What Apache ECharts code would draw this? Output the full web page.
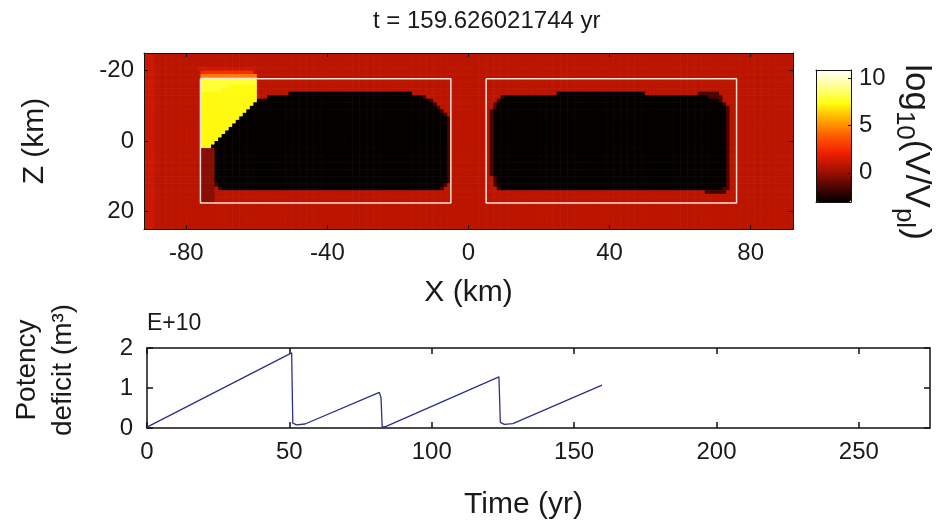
<!DOCTYPE html>
<html>
<head>
<meta charset="utf-8">
<script src="https://cdn.jsdelivr.net/npm/echarts@6/dist/echarts.min.js"></script>
<style>html,body{margin:0;padding:0;background:#fff;}#c{width:936px;height:527px;}</style>
</head>
<body>
<div id="c"></div>
<script>
// ---------- data ----------
const titleText = 't = 159.626021744 yr';
// slip-rate field log10(V/Vpl), read from the picture as run-length rows (1 km cells)
// x from -92 to 92 km, z from -25 (top row) to 25 km; token = level letter + x where the run ends
const levelValues = { r: 0.8, s: 1.2, d: -0.3, b: -1.6, k: -3.0, y: 7.3, w: 7.9, o: 4.6, q: 2.6 };
const fieldRows = [
  "s-89 r92","s-89 r92","s-89 r92","s-89 r92",
  "s-89 r-77 s-60 r92",
  "s-89 r-76 q-61 r92",
  "s-89 r-76 o-60 r92",
  "s-89 r-76 w-60 r92",
  "s-89 r-76 w-60 r92",
  "s-89 r-76 w-68 y-60 r92",
  "s-89 r-76 w-70 y-60 r92",
  "s-89 r-76 y-60 r-51 k-16 r25 k50 r65 b71 r92",
  "s-89 r-76 y-60 r-57 k-13 b-12 r9 b10 k68 b72 r92",
  "s-89 r-76 y-60 k-11 b-10 r8 b9 k71 b72 r92",
  "s-89 r-76 y-61 k-10 b-9 r7 b8 k72 b73 r92",
  "s-89 r-76 y-62 k-9 b-8 r7 b8 k73 b74 r92",
  "s-89 r-76 y-63 k-8 b-7 r6 b7 k73 b74 r92",
  "s-89 r-76 y-64 k-7 b-6 r6 b7 k73 b74 r92",
  "s-89 r-76 y-65 k-6 b-5 r6 b7 k73 b74 r92",
  "s-89 r-76 y-66 k-6 b-5 r6 b7 k73 b74 r92",
  "s-89 r-76 y-67 k-6 b-5 r6 b7 k73 b74 r92",
  "s-89 r-76 y-68 k-6 b-5 r6 b7 k73 b74 r92",
  "s-89 r-76 y-69 k-6 b-5 r6 b7 k73 b74 r92",
  "s-89 r-76 y-70 k-6 b-5 r6 b7 k73 b74 r92",
  "s-89 r-76 y-71 k-6 b-5 r6 b7 k73 b74 r92",
  "s-89 r-76 y-72 k-6 b-5 r6 b7 k73 b74 r92",
  "s-89 r-76 y-73 k-6 b-5 r6 b7 k73 b74 r92",
  "s-89 r-76 d-72 k-6 b-5 r6 b7 k73 b74 r92",
  "s-89 r-76 d-72 k-6 b-5 r6 b7 k73 b74 r92",
  "s-89 r-76 d-72 k-6 b-5 r6 b7 k73 b74 r92",
  "s-89 r-76 d-72 k-6 b-5 r6 b7 k73 b74 r92",
  "s-89 r-76 d-72 k-6 b-5 r6 b7 k73 b74 r92",
  "s-89 r-76 d-72 k-6 b-5 r6 b7 k73 b74 r92",
  "s-89 r-76 d-72 k-6 b-5 r6 b7 k73 b74 r92",
  "s-89 r-76 d-72 k-6 b-5 r6 b7 k73 b74 r92",
  "s-89 r-76 d-72 k-6 b-5 r7 b8 k73 b74 r92",
  "s-89 r-76 d-72 k-6 b-5 r7 b8 k73 b74 r92",
  "s-89 r-76 d-72 b-71 k-7 b-6 r7 b8 k73 b74 r92",
  "s-89 r-76 d-72 r-71 b-70 k-8 b-7 r8 b9 k72 b74 r92",
  "s-89 r-76 d-72 r67 b73 r92",
  "s-89 r-76 d-72 r92",
  "s-89 r-76 d-72 r92",
  "s-89 r-76 d-72 r92",
  "s-89 r92","s-89 r92","s-89 r92","s-89 r92","s-89 r92","s-89 r92","s-89 r92"
];
const xRangeKm = [-92, 92];
const zRangeKm = [-25, 25];
const xTickKm = [-80, -40, 0, 40, 80];
const zTickKm = [-20, 0, 20];
// fault segment outlines (km)
const segX = [-76, -5, 5, 76];
const segZ = [-17.7, 17.6];
// colour scale
const cRange = [-3.1, 10.9];
const cTicks = [0, 5, 10];

// potency deficit time series (units of 1e10 m^3)
const timeYr   = [0, 50.8, 51.2, 52.5, 55.5, 81.6, 82.2, 82.6, 84.0, 123.6, 124.1, 125.5, 128.5, 159.8];
const deficit  = [0.02, 1.88, 0.12, 0.08, 0.10, 0.89, 0.75, 0.02, 0.04, 1.28, 0.14, 0.09, 0.11, 1.07];
const timeTicks = [0, 50, 100, 150, 200, 250];
const deficitTicks = [0, 1, 2];

// ---------- build ----------
const FONT = 'Liberation Sans, Arial, sans-serif';
const TXT = '#1a1a1a';
const cells = [];
fieldRows.forEach((row, j) => {
  const runs = row.trim().split(/\s+/).map(t => ({ v: levelValues[t[0]], end: parseFloat(t.slice(1)) }));
  const zc = zRangeKm[0] + 0.5 + j;
  for (let i = 0; i < xRangeKm[1] - xRangeKm[0]; i++) {
    const xc = xRangeKm[0] + 0.5 + i;
    let v = levelValues.r;
    for (const r of runs) { if (xc < r.end) { v = r.v; break; } }
    cells.push([xc, zc, v]);
  }
});
function boxPts(x0, x1) {
  return [[x0, segZ[0]], [x1, segZ[0]], [x1, segZ[1]], [x0, segZ[1]], [x0, segZ[0]]];
}
const lineData = timeYr.map((t, i) => [t, deficit[i]]);

const hot = ['#000000', '#560500', '#ab1200', '#f22000', '#ff5a00', '#ffaa00', '#ffff10', '#ffff90', '#ffffff'];

const chart = echarts.init(document.getElementById('c'), null, { renderer: 'canvas' });
const axisLbl = { color: TXT, fontFamily: FONT, fontSize: 24 };
const nameSty = { color: TXT, fontFamily: FONT, fontSize: 30 };
const AL = (w) => ({ show: true, onZero: false, lineStyle: { color: '#111', width: w || 1 } });

chart.setOption({
  animation: false,
  backgroundColor: '#ffffff',
  title: {
    text: titleText, left: 368, top: 4,
    textStyle: { color: TXT, fontFamily: FONT, fontSize: 24, fontWeight: 'normal' }
  },
  grid: [
    { left: 144, top: 53, width: 649, height: 176, show: false },
    { left: 816, top: 70, width: 35, height: 132, show: false },
    { left: 147, top: 348, width: 783, height: 80, show: false }
  ],
  visualMap: {
    type: 'continuous', min: cRange[0], max: cRange[1], dimension: 2, seriesIndex: 0,
    inRange: { color: hot }, calculable: false, showLabel: false, text: null,
    left: 816, top: 70, itemWidth: 35, itemHeight: 132, padding: 0, hoverLink: false
  },
  xAxis: [
    { gridIndex: 0, type: 'value', min: xRangeKm[0], max: xRangeKm[1], z: 10,
      name: 'X (km)', nameLocation: 'middle', nameGap: 49, nameTextStyle: nameSty,
      axisLine: AL(),
      axisTick: { inside: true, length: 4, customValues: xTickKm, lineStyle: { color: '#111' } },
      axisLabel: { ...axisLbl, customValues: xTickKm, margin: 12 },
      splitLine: { show: false } },
    { gridIndex: 1, type: 'value', min: 0, max: 1, z: 10,
      axisLine: AL(), axisTick: { show: false },
      axisLabel: { show: false }, splitLine: { show: false } },
    { gridIndex: 2, type: 'value', min: 0, max: 275,
      name: 'Time (yr)', nameLocation: 'middle', nameGap: 62,
      nameTextStyle: { ...nameSty, padding: [0, 30, 0, 0] },
      axisLine: AL(1.5),
      axisTick: { inside: true, length: 6, customValues: timeTicks, lineStyle: { color: '#111', width: 1.5 } },
      axisLabel: { ...axisLbl, customValues: timeTicks, margin: 12 },
      splitLine: { show: false } },
    { gridIndex: 2, type: 'value', min: 0, max: 275, position: 'top',
      axisLine: AL(1.5),
      axisTick: { inside: true, length: 6, customValues: timeTicks, lineStyle: { color: '#111', width: 1.5 } },
      axisLabel: { show: false }, splitLine: { show: false } },
    { gridIndex: 1, type: 'value', min: 0, max: 1, position: 'top', z: 10,
      axisLine: AL(), axisTick: { show: false },
      axisLabel: { show: false }, splitLine: { show: false } },
    { gridIndex: 0, type: 'value', min: xRangeKm[0], max: xRangeKm[1], position: 'top', z: 10,
      axisLine: AL(),
      axisTick: { inside: true, length: 4, customValues: xTickKm, lineStyle: { color: '#111' } },
      axisLabel: { show: false }, splitLine: { show: false } }
  ],
  yAxis: [
    { gridIndex: 0, type: 'value', min: zRangeKm[0], max: zRangeKm[1], inverse: true, z: 10,
      name: 'Z (km)', nameLocation: 'middle', nameGap: 94, nameRotate: 90, nameTextStyle: nameSty,
      axisLine: AL(),
      axisTick: { inside: true, length: 4, customValues: zTickKm, lineStyle: { color: '#111' } },
      axisLabel: { ...axisLbl, customValues: zTickKm, margin: 10 },
      splitLine: { show: false } },
    { gridIndex: 1, type: 'value', min: cRange[0], max: cRange[1], position: 'right', z: 10,
      axisLine: AL(),
      axisTick: { inside: true, length: 3, customValues: cTicks, lineStyle: { color: '#111' } },
      axisLabel: { ...axisLbl, customValues: cTicks, margin: 8 },
      splitLine: { show: false } },
    { gridIndex: 2, type: 'value', min: 0, max: 2, interval: 1,
      axisLine: AL(1.5),
      axisTick: { inside: true, length: 6, lineStyle: { color: '#111', width: 1.5 } },
      axisLabel: { ...axisLbl, margin: 14 },
      splitLine: { show: false } },
    { gridIndex: 2, type: 'value', min: 0, max: 2, interval: 1, position: 'right',
      axisLine: AL(1.5),
      axisTick: { inside: true, length: 6, lineStyle: { color: '#111', width: 1.5 } },
      axisLabel: { show: false }, splitLine: { show: false } },
    { gridIndex: 1, type: 'value', min: cRange[0], max: cRange[1], position: 'left', z: 10,
      axisLine: AL(), axisTick: { show: false },
      axisLabel: { show: false }, splitLine: { show: false } },
    { gridIndex: 0, type: 'value', min: zRangeKm[0], max: zRangeKm[1], inverse: true, position: 'right', z: 10,
      axisLine: AL(),
      axisTick: { inside: true, length: 4, customValues: zTickKm, lineStyle: { color: '#111' } },
      axisLabel: { show: false }, splitLine: { show: false } }
  ],
  series: [
    { type: 'custom', xAxisIndex: 0, yAxisIndex: 0, data: cells, silent: true,
      clip: true,
      renderItem: function (params, api) {
        const x = api.value(0), z = api.value(1);
        const p0 = api.coord([x - 0.5, z - 0.5]);
        const p1 = api.coord([x + 0.5, z + 0.5]);
        return { type: 'rect',
          shape: { x: Math.min(p0[0], p1[0]), y: Math.min(p0[1], p1[1]),
                   width: Math.abs(p1[0] - p0[0]) + 0.6, height: Math.abs(p1[1] - p0[1]) + 0.6 },
          style: { fill: api.visual('color') } };
      } },
    { type: 'line', xAxisIndex: 0, yAxisIndex: 0, data: boxPts(segX[0], segX[1]), symbol: 'none',
      lineStyle: { color: '#f3e2da', width: 1.5 }, silent: true, z: 5 },
    { type: 'line', xAxisIndex: 0, yAxisIndex: 0, data: boxPts(segX[2], segX[3]), symbol: 'none',
      lineStyle: { color: '#f3e2da', width: 1.5 }, silent: true, z: 5 },
    { type: 'line', xAxisIndex: 2, yAxisIndex: 2, data: lineData, symbol: 'none',
      lineStyle: { color: '#2c2f8c', width: 1.3 }, silent: true }
  ],
  graphic: [
    { type: 'text', left: 147, top: 312,
      style: { text: 'E+10', fill: TXT, font: '23px ' + FONT } },
    { type: 'text', x: 45, y: 370, rotation: Math.PI / 2,
      style: { text: 'Potency\ndeficit (m³)', fill: TXT, font: '28px ' + FONT,
               align: 'center', verticalAlign: 'middle', lineHeight: 36 } },
    { type: 'text', x: 916, y: 152, rotation: -Math.PI / 2,
      style: { text: '{n|log}{s|10}{n|(V/V}{s|pl}{n|)}', align: 'center', verticalAlign: 'middle',
               rich: { n: { fontSize: 35, fontFamily: FONT, fill: TXT, lineHeight: 50 },
                       s: { fontSize: 26, fontFamily: FONT, fill: TXT, verticalAlign: 'bottom' } } } }
  ]
});
</script>
</body>
</html>
